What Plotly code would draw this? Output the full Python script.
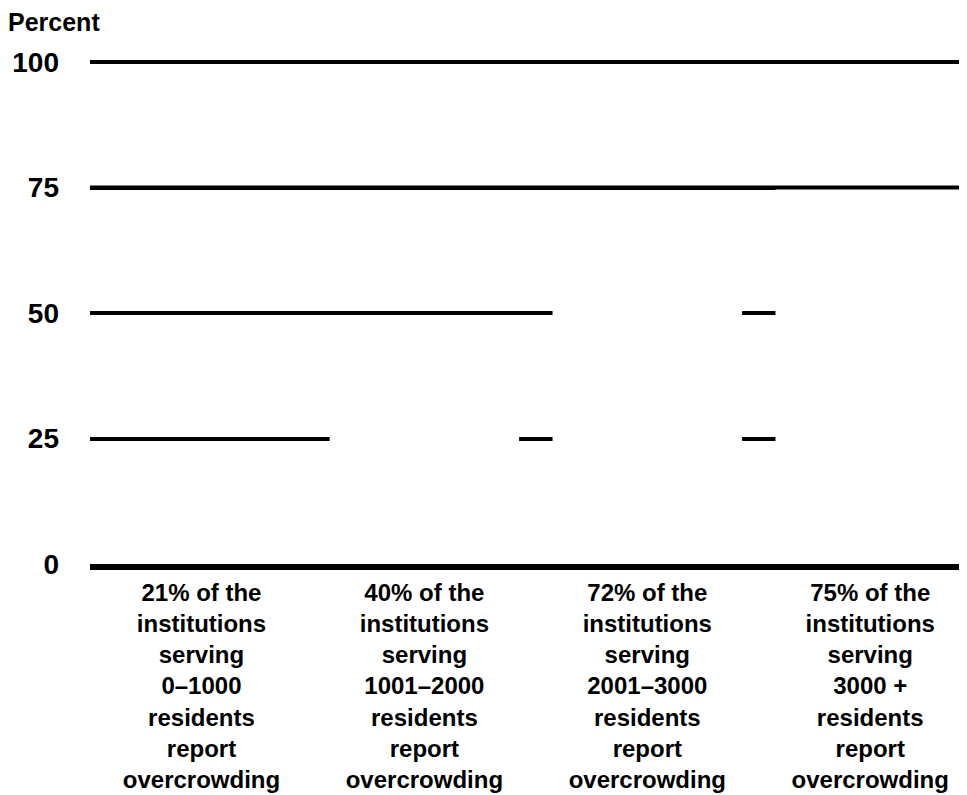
import plotly.graph_objects as go

categories = [
    "21% of the<br>institutions<br>serving<br>0–1000<br>residents<br>report<br>overcrowding",
    "40% of the<br>institutions<br>serving<br>1001–2000<br>residents<br>report<br>overcrowding",
    "72% of the<br>institutions<br>serving<br>2001–3000<br>residents<br>report<br>overcrowding",
    "75% of the<br>institutions<br>serving<br>3000 +<br>residents<br>report<br>overcrowding",
]
percent_overcrowded = [21, 40, 72, 75]
y_ticks = [0, 25, 50, 75, 100]
y_tick_labels = ["0", "25", "50", "75", "100"]

FONT = "Liberation Sans, Arial, sans-serif"

fig = go.Figure(
    go.Bar(
        x=categories,
        y=percent_overcrowded,
        width=0.85,
        marker=dict(color="white", line=dict(width=0)),
        hoverinfo="skip",
    )
)

fig.update_layout(
    width=967,
    height=795,
    margin=dict(l=82, r=0, t=49, b=239),
    paper_bgcolor="white",
    plot_bgcolor="white",
    showlegend=False,
    title=dict(
        text="Percent",
        x=0.0,
        xanchor="left",
        xref="container",
        y=1 - 14 / 795,
        yanchor="middle",
        font=dict(family=FONT, size=25, color="black", weight="bold"),
    ),
)

fig.update_xaxes(
    type="category",
    range=[-0.5, 3.47],
    showgrid=False,
    zeroline=False,
    showline=True,
    linewidth=6,
    linecolor="black",
    ticks="",
    ticklabelstandoff=2,
    tickfont=dict(family=FONT, size=24, color="black", weight="bold"),
)

fig.update_yaxes(
    range=[0, 101],
    tickvals=y_ticks,
    ticktext=y_tick_labels,
    showgrid=True,
    gridcolor="black",
    gridwidth=4,
    zeroline=False,
    showline=False,
    ticks="",
    ticklabelstandoff=30,
    tickfont=dict(family=FONT, size=28, color="black", weight="bold"),
)

# gridlines at or above the tallest bar are never hidden by a bar
for t in y_ticks:
    if t >= max(percent_overcrowded):
        fig.add_shape(
            type="line", xref="paper", yref="y",
            x0=0, x1=1, y0=t, y1=t,
            line=dict(color="black", width=4),
            layer="above",
        )

fig.write_html("out.html")
